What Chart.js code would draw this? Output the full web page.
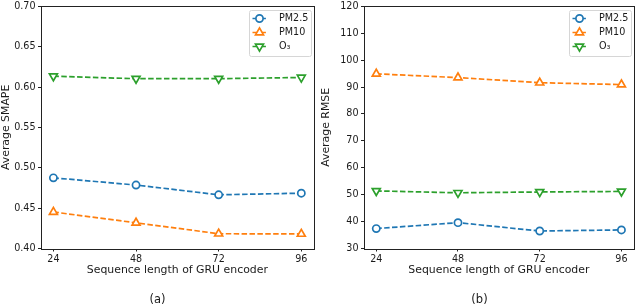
<!DOCTYPE html>
<html>
<head>
<meta charset="utf-8">
<script src="https://cdn.jsdelivr.net/npm/chart.js@4.4.0/dist/chart.umd.min.js"></script>
<style>
  html, body { margin: 0; padding: 0; width: 640px; height: 307px; overflow: hidden; background: #fff; }
  .panel { position: absolute; top: -2px; width: 320px; height: 313px; }
  #left { left: 0; }
  #right { left: 320px; }
</style>
</head>
<body>
<div class="panel" id="left"><canvas id="c1" width="320" height="313"></canvas></div>
<div class="panel" id="right"><canvas id="c2" width="320" height="313"></canvas></div>
<script>
// ---- data ----
const seqLengths = [24, 48, 72, 96];
const seriesNames = ['PM2.5', 'PM10', 'O\u2083'];

const smapePM25 = [0.4875, 0.4786, 0.4665, 0.4685];
const smapePM10 = [0.4452, 0.4318, 0.4183, 0.4180];
const smapeO3   = [0.6134, 0.6103, 0.6103, 0.6118];

const rmsePM25 = [37.4, 39.6, 36.5, 36.9];
const rmsePM10 = [94.9, 93.5, 91.6, 90.9];
const rmseO3   = [51.4, 50.7, 51.0, 51.2];

const smapeTicks = [0.40, 0.45, 0.50, 0.55, 0.60, 0.65, 0.70];
const rmseTicks  = [30, 40, 50, 60, 70, 80, 90, 100, 110, 120];

const xTitle = 'Sequence length of GRU encoder';

// ---- styling ----
const COLORS = ['#1f77b4', '#ff7f0e', '#2ca02c'];
const STYLES = [
  { pointStyle: 'circle', rotation: 0, radius: 3.6 },
  { pointStyle: 'triangle', rotation: 0, radius: 4.6 },
  { pointStyle: 'triangle', rotation: 180, radius: 4.6 }
];
const FONT = 'DejaVu Sans';
const TEXT = '#1a1a1a';
const DASH = [5.5, 2.4];
const TICK_SIZE = 9.6;
const LABEL_SIZE = 10.9;

function makeDatasets(valueLists) {
  return valueLists.map((vals, i) => ({
    label: seriesNames[i],
    data: seqLengths.map((x, j) => ({ x: x, y: vals[j] })),
    borderColor: COLORS[i],
    backgroundColor: '#ffffff',
    borderWidth: 1.7,
    borderDash: DASH,
    pointStyle: STYLES[i].pointStyle,
    pointRotation: STYLES[i].rotation,
    pointRadius: STYLES[i].radius,
    pointHoverRadius: STYLES[i].radius,
    pointBorderWidth: 1.7,
    pointBackgroundColor: '#ffffff',
    pointBorderColor: COLORS[i],
    tension: 0,
    fill: false
  }));
}

function drawMarker(ctx, style, x, y) {
  ctx.beginPath();
  if (style.pointStyle === 'circle') {
    ctx.arc(x, y, style.radius, 0, Math.PI * 2);
  } else {
    const r = style.radius;
    const rot = style.rotation * Math.PI / 180;
    for (let k = 0; k < 3; k++) {
      const ang = rot - Math.PI / 2 + k * 2 * Math.PI / 3;
      const px = x + r * Math.cos(ang), py = y + r * Math.sin(ang);
      if (k === 0) ctx.moveTo(px, py); else ctx.lineTo(px, py);
    }
    ctx.closePath();
  }
  ctx.fill();
  ctx.stroke();
}

const framePlugin = {
  id: 'frame',
  afterDatasetsDraw(chart) {
    const a = chart.chartArea, ctx = chart.ctx;
    ctx.save();
    ctx.strokeStyle = '#222';
    ctx.lineWidth = 1;
    ctx.setLineDash([]);
    ctx.strokeRect(Math.round(a.left) + 0.5, Math.round(a.top) + 0.5,
                   Math.round(a.right) - Math.round(a.left), Math.round(a.bottom) - Math.round(a.top));
    ctx.restore();
  }
};

const mplLegend = {
  id: 'mplLegend',
  afterDraw(chart, args, opts) {
    const a = chart.chartArea, ctx = chart.ctx;
    const w = opts.width, h = opts.height;
    const x = Math.round(a.right - opts.right - w) + 0.5;
    const y = Math.round(a.top + opts.top) + 0.5;
    ctx.save();
    ctx.beginPath();
    ctx.roundRect(x, y, w, h, 2);
    ctx.fillStyle = 'rgba(255,255,255,0.85)';
    ctx.fill();
    ctx.strokeStyle = '#d6d6d6';
    ctx.lineWidth = 1;
    ctx.stroke();
    chart.data.datasets.forEach((ds, i) => {
      const cy = y + opts.firstRow + i * opts.rowGap;
      ctx.strokeStyle = ds.borderColor;
      ctx.lineWidth = ds.borderWidth;
      ctx.setLineDash(ds.borderDash);
      ctx.beginPath();
      ctx.moveTo(x + 3, cy);
      ctx.lineTo(x + 17.5, cy);
      ctx.stroke();
      ctx.setLineDash([]);
      ctx.fillStyle = '#ffffff';
      ctx.lineWidth = ds.pointBorderWidth;
      drawMarker(ctx, { pointStyle: ds.pointStyle, rotation: ds.pointRotation, radius: ds.pointRadius }, x + 10, cy);
      ctx.fillStyle = TEXT;
      ctx.font = TICK_SIZE + 'px "' + FONT + '"';
      ctx.textBaseline = 'middle';
      ctx.textAlign = 'left';
      ctx.fillText(ds.label, x + 29.5, cy);
    });
    ctx.restore();
  }
};

function makeChart(canvasId, valueLists, yTicks, yTitle, caption, yWidth, padRight) {
  const xMin = seqLengths[0], xMax = seqLengths[seqLengths.length - 1];
  const margin = (xMax - xMin) * 0.05;
  const yRange = yTicks[yTicks.length - 1] - yTicks[0];
  const decimals = yRange < 1 ? 2 : 0;
  return new Chart(document.getElementById(canvasId), {
    type: 'line',
    data: { datasets: makeDatasets(valueLists) },
    options: {
      responsive: false,
      animation: false,
      devicePixelRatio: 1,
      layout: { padding: { left: 0, right: padRight, top: 5.5, bottom: 0 } },
      plugins: {
        legend: { display: false },
        tooltip: { enabled: false },
        title: {
          display: true,
          text: caption,
          position: 'bottom',
          color: TEXT,
          font: { family: FONT, size: 11.5, weight: 'normal' },
          padding: { top: 16.4, bottom: 3.8 }
        },
        mplLegend: { width: 62, height: 46, right: 2.5, top: 3.5, firstRow: 8, rowGap: 14 }
      },
      scales: {
        x: {
          type: 'linear',
          min: xMin - margin,
          max: xMax + margin,
          afterBuildTicks: (s) => { s.ticks = seqLengths.map(v => ({ value: v })); },
          afterFit: (s) => { s.height = 28.5; },
          grid: { display: true, drawOnChartArea: false, drawTicks: true, tickLength: 3, tickColor: '#222', tickWidth: 1 },
          border: { display: false },
          ticks: {
            color: TEXT, padding: 1.8, maxRotation: 0, autoSkip: false,
            font: { family: FONT, size: TICK_SIZE },
            callback: (v) => String(v)
          },
          title: { display: true, text: xTitle, color: TEXT, padding: 0, font: { family: FONT, size: LABEL_SIZE } }
        },
        y: {
          type: 'linear',
          min: yTicks[0],
          max: yTicks[yTicks.length - 1],
          afterBuildTicks: (s) => { s.ticks = yTicks.map(v => ({ value: v })); },
          afterFit: (s) => { s.width = yWidth; },
          grid: { display: true, drawOnChartArea: false, drawTicks: true, tickLength: 3, tickColor: '#222', tickWidth: 1 },
          border: { display: false },
          ticks: {
            color: TEXT, padding: 2.5, autoSkip: false,
            font: { family: FONT, size: TICK_SIZE },
            callback: (v) => Number(v).toFixed(decimals)
          },
          title: { display: true, text: yTitle, color: TEXT, padding: 0, font: { family: FONT, size: LABEL_SIZE } }
        }
      }
    },
    plugins: [framePlugin, mplLegend]
  });
}

makeChart('c1', [smapePM25, smapePM10, smapeO3], smapeTicks, 'Average SMAPE', '(a)', 41, 5);
makeChart('c2', [rmsePM25, rmsePM10, rmseO3], rmseTicks, 'Average RMSE', '(b)', 44, 1);
</script>
</body>
</html>
